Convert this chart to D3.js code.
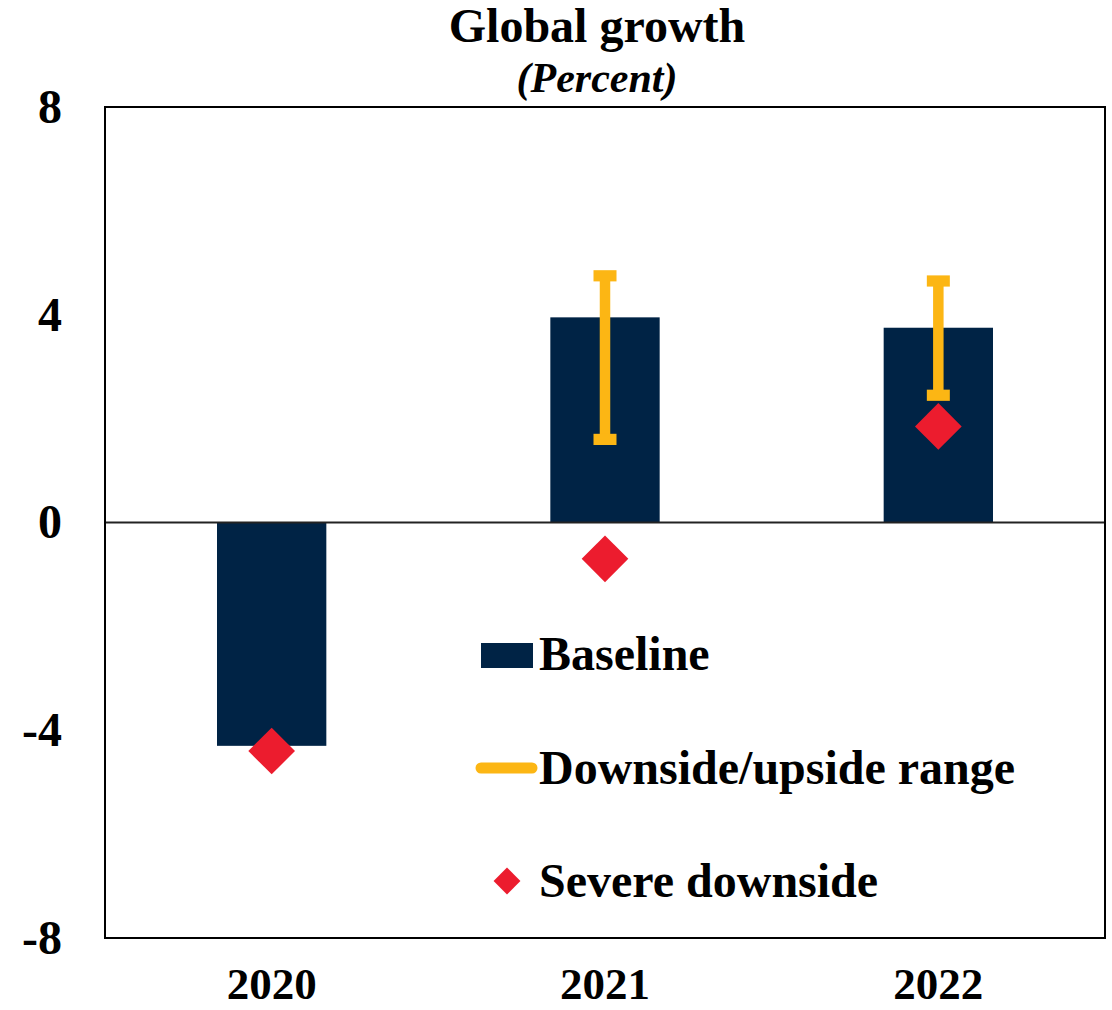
<!DOCTYPE html>
<html>
<head>
<meta charset="utf-8">
<script src="https://cdn.jsdelivr.net/npm/d3@7"></script>
<style>
  html, body { margin: 0; padding: 0; background: #fff; }
  svg { display: block; }
  svg text { font-family: "Liberation Serif", "Times New Roman", serif; font-weight: bold; fill: #000; }
</style>
</head>
<body>
<svg id="chart" width="1112" height="1010"></svg>
<script>
const years = ["2020", "2021", "2022"];
const baseline = [-4.3, 3.95, 3.75];
const rangeLow = [null, 1.6, 2.45];
const rangeHigh = [null, 4.75, 4.65];
const severe = [-4.4, -0.7, 1.85];
const yTicks = [-8, -4, 0, 4, 8];
const legendLabels = ["Baseline", "Downside/upside range", "Severe downside"];

const colNavy = "#002345", colGold = "#FCB614", colRed = "#EC1C2E";

const svg = d3.select("#chart");
const L = 105, R = 1105, T = 107, B = 938;

const x = d3.scaleBand().domain(years).range([L, R]).paddingInner(0.672).paddingOuter(0.336);
const y = d3.scaleLinear().domain([-8, 8]).range([B, T]);

// title
svg.append("text").attr("x", 597).attr("y", 42).attr("text-anchor", "middle")
  .attr("font-size", 48).text("Global growth");
svg.append("text").attr("x", 597).attr("y", 92).attr("text-anchor", "middle")
  .attr("font-size", 42).style("font-style", "italic")
  .text("(Percent)");

// bars
svg.append("g").selectAll("rect").data(years).join("rect")
  .attr("x", d => x(d))
  .attr("width", x.bandwidth())
  .attr("y", (d, i) => y(Math.max(0, baseline[i])))
  .attr("height", (d, i) => Math.abs(y(baseline[i]) - y(0)))
  .attr("fill", colNavy);

// zero line
svg.append("line").attr("x1", L).attr("x2", R).attr("y1", y(0)).attr("y2", y(0))
  .attr("stroke", "#222").attr("stroke-width", 2);

// error bars
const eb = svg.append("g");
years.forEach((yr, i) => {
  if (rangeLow[i] == null) return;
  const cx = x(yr) + x.bandwidth() / 2;
  eb.append("line").attr("x1", cx).attr("x2", cx)
    .attr("y1", y(rangeHigh[i])).attr("y2", y(rangeLow[i]))
    .attr("stroke", colGold).attr("stroke-width", 10.5);
  [rangeHigh[i], rangeLow[i]].forEach(v => {
    eb.append("rect").attr("x", cx - 11.5).attr("width", 23)
      .attr("y", y(v) - 5.6).attr("height", 11.2).attr("fill", colGold);
  });
});

// severe diamonds
const sq = d3.symbol().type(d3.symbolSquare).size(33 * 33);
svg.append("g").selectAll("path").data(years).join("path")
  .attr("d", sq)
  .attr("transform", (d, i) => `translate(${x(d) + x.bandwidth() / 2},${y(severe[i])}) rotate(45)`)
  .attr("fill", colRed);

// frame
svg.append("rect").attr("x", L).attr("y", T).attr("width", R - L).attr("height", B - T)
  .attr("fill", "none").attr("stroke", "#000").attr("stroke-width", 2);

// axes
const yAxis = svg.append("g").attr("transform", `translate(${L},0)`)
  .call(d3.axisLeft(y).tickValues(yTicks).tickSize(0).tickPadding(43).tickFormat(d => String(d)));
yAxis.select(".domain").remove();
yAxis.selectAll("text").attr("font-size", 48);

const xAxis = svg.append("g").attr("transform", `translate(0,${B})`)
  .call(d3.axisBottom(x).tickSize(0).tickPadding(29));
xAxis.select(".domain").remove();
xAxis.selectAll("text").attr("font-size", 45);

// legend
const lg = svg.append("g");
const lgY = [670, 784, 897];
lg.append("rect").attr("x", 481).attr("y", 643).attr("width", 52).attr("height", 25).attr("fill", colNavy);
lg.append("line").attr("x1", 481).attr("x2", 532).attr("y1", 768).attr("y2", 768)
  .attr("stroke", colGold).attr("stroke-width", 11).attr("stroke-linecap", "round");
lg.append("path").attr("d", d3.symbol().type(d3.symbolSquare).size(19 * 19))
  .attr("transform", "translate(507,881) rotate(45)").attr("fill", colRed);
legendLabels.forEach((t, i) => {
  lg.append("text").attr("x", 539).attr("y", lgY[i])
    .attr("font-size", 48).text(t);
});
</script>
</body>
</html>
